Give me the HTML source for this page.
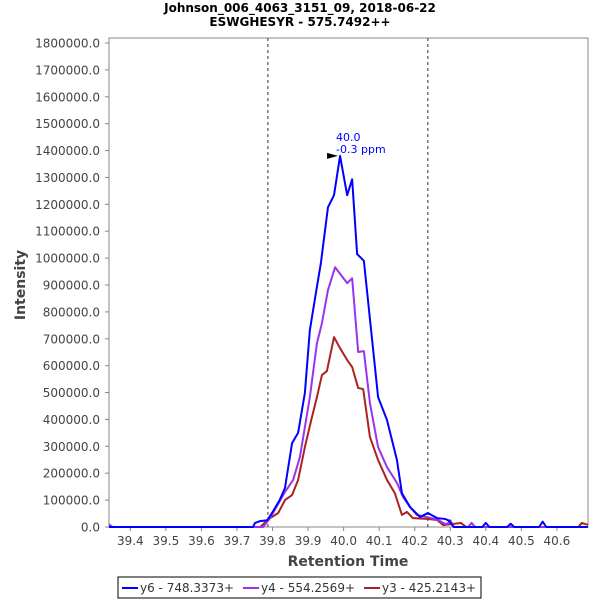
<!DOCTYPE html>
<html><head><meta charset="utf-8"><style>
body{margin:0;background:#fff;}
svg{display:block;font-family:"DejaVu Sans","Liberation Sans",sans-serif;}
</style></head><body>
<svg id="chart" width="600" height="600">
<text x="300" y="12" text-anchor="middle" font-weight="bold" font-size="12">Johnson_006_4063_3151_09, 2018-06-22</text>
<text x="300" y="26" text-anchor="middle" font-weight="bold" font-size="12">ESWGHESYR - 575.7492++</text>
<rect x="109" y="38" width="479" height="489" fill="#fff" stroke="#888"/>
<g id="yticks"></g><g id="xticks"></g>
<g id="marks"></g>
<text transform="translate(25,285) rotate(-90)" text-anchor="middle" font-weight="bold" font-size="14" fill="#444">Intensity</text>
<text x="348" y="566" text-anchor="middle" font-weight="bold" font-size="14" fill="#444">Retention Time</text>
<g>
<rect x="118" y="577" width="363" height="21" fill="#fff" stroke="#000"/>
<g><line x1="122" y1="588" x2="138" y2="588" stroke="#0000ff" stroke-width="2"/><text x="140" y="592" font-size="12" fill="#333">y6 - 748.3373+</text></g>
<g><line x1="243" y1="588" x2="259" y2="588" stroke="#9933ee" stroke-width="2"/><text x="261" y="592" font-size="12" fill="#333">y4 - 554.2569+</text></g>
<g><line x1="364" y1="588" x2="380" y2="588" stroke="#aa2222" stroke-width="2"/><text x="382" y="592" font-size="12" fill="#333">y3 - 425.2143+</text></g>
</g>
</svg>
<script>
const y6Times=[39.34,39.745,39.751,39.765,39.785,39.80,39.82,39.835,39.855,39.872,39.891,39.905,39.922,39.936,39.956,39.973,39.99,40.01,40.024,40.038,40.057,40.097,40.122,40.15,40.164,40.187,40.215,40.237,40.263,40.285,40.295,40.31,40.39,40.40,40.41,40.46,40.47,40.48,40.55,40.56,40.57,40.687];
const y6Values=[0,0,15000,22000,25000,55000,100000,145000,312000,350000,498000,732000,870000,981000,1189000,1234000,1380000,1234000,1293000,1015000,990000,483000,398000,249000,126000,74000,37000,52000,33000,30000,25000,0,0,15000,0,0,12000,0,0,20000,0,0];
const y4Times=[39.34,39.345,39.35,39.774,39.793,39.835,39.858,39.877,39.905,39.925,39.939,39.956,39.976,40.01,40.024,40.041,40.057,40.074,40.097,40.122,40.15,40.167,40.187,40.206,40.235,40.266,40.28,40.29,40.30,40.31,40.35,40.36,40.37,40.687];
const y4Values=[10000,5000,0,0,33000,130000,175000,260000,483000,684000,758000,881000,966000,907000,925000,651000,654000,461000,297000,223000,164000,112000,74000,45000,37000,26000,15000,10000,25000,0,0,15000,0,0];
const y3Times=[39.34,39.765,39.774,39.785,39.816,39.835,39.855,39.872,39.891,39.911,39.925,39.939,39.953,39.973,39.99,40.01,40.024,40.041,40.055,40.074,40.097,40.122,40.144,40.164,40.178,40.195,40.235,40.263,40.28,40.30,40.33,40.345,40.36,40.66,40.67,40.687];
const y3Values=[0,0,10000,26000,52000,100000,119000,175000,297000,409000,483000,565000,580000,706000,665000,621000,595000,517000,513000,335000,249000,175000,126000,45000,56000,33000,30000,26000,7000,10000,15000,0,0,0,15000,8000];
const yTicks=[0,100000,200000,300000,400000,500000,600000,700000,800000,900000,1000000,1100000,1200000,1300000,1400000,1500000,1600000,1700000,1800000];
const xTicks=[39.4,39.5,39.6,39.7,39.8,39.9,40.0,40.1,40.2,40.3,40.4,40.5,40.6];
const boundaryTimes=[39.787,40.237];
const peakTime=39.99, peakValue=1380000;
const X0=39.340,X1=40.6875,PL=109,PR=588,PT=43,PB=527,YMAX=1800000;
const xs=t=>PL+(t-X0)/(X1-X0)*(PR-PL);
const ys=v=>PB-v/YMAX*(PB-PT);
const NS='http://www.w3.org/2000/svg';
function mk(tag,attrs,parent){const e=document.createElementNS(NS,tag);for(const k in attrs)e.setAttribute(k,attrs[k]);parent.appendChild(e);return e;}
const yg=document.getElementById('yticks'),xg=document.getElementById('xticks'),mg=document.getElementById('marks');
yTicks.forEach(v=>{
 const t=mk('text',{x:100,y:ys(v)+4.5,'text-anchor':'end','font-size':12,fill:'#444'},yg);
 
 
 t.textContent=v.toFixed(1);
 mk('line',{x1:105,x2:109,y1:ys(v),y2:ys(v),stroke:'#888'},yg);
});
xTicks.forEach(v=>{
 const t=mk('text',{x:xs(v),y:545,'text-anchor':'middle','font-size':12,fill:'#444'},xg);
 
 
 t.textContent=v.toFixed(1);
 mk('line',{x1:xs(v),x2:xs(v),y1:527,y2:531,stroke:'#888'},xg);
});
boundaryTimes.forEach(t=>{
 const l=mk('line',{x1:xs(t),x2:xs(t),y1:38,y2:527,stroke:'#333','stroke-dasharray':'3,3'},mg);
 
 
});
function series(ts,vs,color,name){
 const p=mk('polyline',{points:ts.map((t,i)=>xs(t)+','+ys(vs[i])).join(' '),fill:'none',stroke:color,'stroke-width':2,'stroke-linejoin':'round'},mg);
 
 
}
series(y3Times,y3Values,'#aa2222','series-y3');
series(y4Times,y4Values,'#9933ee','series-y4');
series(y6Times,y6Values,'#0000ff','series-y6');
const px=xs(peakTime),py=ys(peakValue);
const tri=mk('polygon',{points:(px-13)+','+(py-3)+' '+(px-2)+','+(py)+' '+(px-13)+','+(py+3),fill:'#000'},mg);


const a1=mk('text',{x:px-4,y:py-15,'font-size':11,fill:'#0000ff'},mg);


a1.textContent='40.0';
const a2=mk('text',{x:px-4,y:py-3,'font-size':11,fill:'#0000ff'},mg);


a2.textContent='-0.3 ppm';
</script>
</body></html>
